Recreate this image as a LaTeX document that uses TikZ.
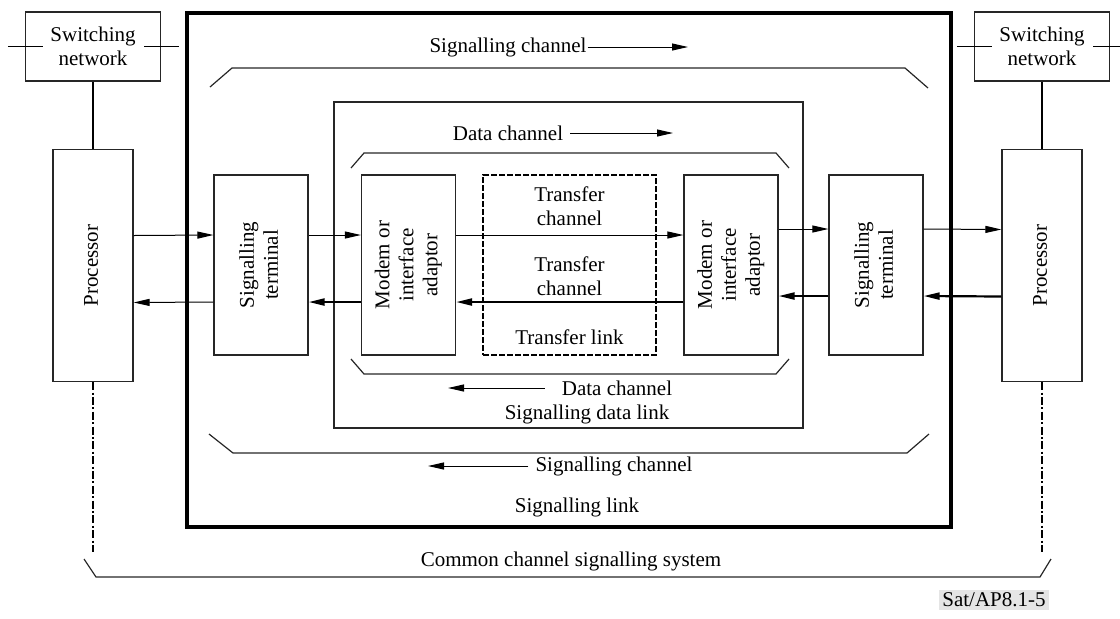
\documentclass[tikz,border=0pt]{standalone}
\usepackage{fontspec}
\setmainfont{Liberation Serif}
\usepackage{graphicx}
\usepackage{tikz}
\usetikzlibrary{arrows.meta, positioning, calc}

\newcommand{\vlabel}[1]{\rotatebox{90}{\begin{tabular}{@{}c@{}}#1\end{tabular}}}

\begin{document}
\begin{tikzpicture}[
    x=0.5pt, y=-0.5pt,
    every node/.style={font=\fontsize{10.5}{12}\selectfont},
    box/.style={draw=black!85, line width=0.6pt, inner sep=0pt, align=center},
    swbox/.style={box, minimum width=67.5pt, minimum height=34.5pt},
    proc/.style={box, minimum width=40pt, minimum height=116pt},
    term/.style={box, minimum width=47pt, minimum height=90pt},
    tlink/.style={box, draw=black, line width=0.9pt, dash pattern=on 3pt off 1pt, minimum width=86.5pt, minimum height=90pt},
    sig/.style={-{Triangle[length=8pt, width=3.5pt]}, line width=0.5pt},
    sigbold/.style={sig, line width=1.1pt},
    brace/.style={black!85, line width=0.6pt},
    sysline/.style={line width=0.7pt, dash pattern=on 4pt off 1.2pt on 1pt off 1.2pt},
    lbl/.style={align=center}
]
\useasboundingbox (0,0) rectangle (1120,618);

\def\xProcL{93}
\def\xTermL{261}
\def\xModemL{408.5}
\def\xLink{569.5}
\def\xModemR{731}
\def\xTermR{876}
\def\xProcR{1042}
\def\yRow{265}

% Switching networks and processors
\node[swbox] (swL) at (\xProcL, 46.5) {Switching\\network};
\node[swbox] (swR) at (\xProcR, 46.5) {Switching\\network};
\draw[line width=0.6pt] ([xshift=-8.5pt]swL.west) -- ([xshift=9pt]swL.west);
\draw[line width=0.6pt] ([xshift=-8.5pt]swL.east) -- ([xshift=9pt]swL.east);
\draw[line width=0.6pt] ([xshift=-8.5pt]swR.west) -- ([xshift=9pt]swR.west);
\draw[line width=0.6pt] ([xshift=-8.5pt]swR.east) -- ([xshift=5.5pt]swR.east);

\node[proc] (procL) at (\xProcL, 265.5) {\vlabel{Processor}};
\node[proc] (procR) at (\xProcR, 265.5) {\vlabel{Processor}};
\draw[line width=1pt] (swL) -- (procL);
\draw[line width=1pt] (swR) -- (procR);

% Signalling link (outer) and signalling data link (inner)
\node[box, draw=black, line width=1.6pt, minimum width=382pt, minimum height=257pt] (slink) at (569, 270) {};
\node[box, minimum width=234.5pt, minimum height=163pt] (sdlink) at (568.5, 265) {};

% Terminals, modems, transfer link
\node[term] (termL)  at (\xTermL,  \yRow) {\vlabel{Signalling\\terminal}};
\node[term] (modemL) at (\xModemL, \yRow) {\vlabel{Modem or\\interface\\adaptor}};
\node[tlink] (tlink) at (\xLink,   \yRow) {};
\node[term] (modemR) at (\xModemR, \yRow) {\vlabel{Modem or\\interface\\adaptor}};
\node[term] (termR)  at (\xTermR,  \yRow) {\vlabel{Signalling\\terminal}};

\node[lbl] (tchanA) at (\xLink, 206) {Transfer\\channel};
\node[lbl] (tchanB) at (\xLink, 276) {Transfer\\channel};
\node[lbl] (tlinkTxt) at (\xLink, 337) {Transfer link};

% Forward (thin) and backward (bold) flows
\draw[sig]     ([yshift=15pt]procL.east)    -- ([yshift=15pt]termL.west);
\draw[sig]     ([yshift=-18.5pt]termL.west) -- ([yshift=-18.5pt]procL.east);
\draw[sig]     ([yshift=15pt]termL.east)    -- ([yshift=15pt]modemL.west);
\draw[sigbold] ([yshift=-18.5pt]modemL.west) -- ([yshift=-18.5pt]termL.east);
\draw[sig]     ([yshift=15pt]modemL.east)   -- ([yshift=15pt]modemR.west);
\draw[sigbold] ([yshift=-18.5pt]modemR.west) -- ([yshift=-18.5pt]modemL.east);
\draw[sig]     ([yshift=18pt]modemR.east)   -- ([yshift=18pt]termR.west);
\draw[sigbold] ([yshift=-15.5pt]termR.west) -- ([yshift=-15.5pt]modemR.east);
\draw[sig]     ([yshift=18pt]termR.east)    -- ([yshift=18pt]procR.west);
\draw[sigbold] ([yshift=-15.5pt]procR.west) -- ([yshift=-15.5pt]termR.east);

% Channel braces
\draw[brace] (210,87) -- (232,68) -- (905,68) -- (928,88);
\draw[brace] (209,434) -- (233,453) -- (907,453) -- (929,434);
\draw[brace] (351,168) -- (364,153) -- (776,153) -- (789,168);
\draw[brace] (351,359) -- (364,374) -- (776,374) -- (789,359);
\draw[brace] (84,559) -- (96,577) -- (1040,577) -- (1051,559);

% Channel labels
\node (scTop) at (508, 47) {Signalling channel};
\coordinate (scTopTip) at (688, 47);
\draw[sig] ([xshift=-3pt]scTop.east) -- (scTopTip);

\node (dcTop) at (508, 133) {Data channel};
\coordinate (dcTopTip) at (673, 133);
\draw[sig] (dcTop.east) -- (dcTopTip);

\node (dcBot) at (617, 388) {Data channel};
\coordinate (dcBotTip) at (448, 388);
\draw[sig] ([xshift=-5pt]dcBot.west) -- (dcBotTip);

\node (sdlTxt) at (587, 414) {Signalling data link};

\node (scBot) at (614, 466) {Signalling channel};
\coordinate (scBotTip) at (428, 466);
\draw[sig] (scBot.west) -- (scBotTip);

\node (slTxt) at (577, 507) {Signalling link};

% Common channel signalling system
\coordinate (ccsL) at (\xProcL, 552);
\coordinate (ccsR) at (\xProcR, 552);
\draw[sysline] (procL) -- (ccsL);
\draw[sysline] (procR) -- (ccsR);
\node (ccsTxt) at (571, 561) {Common channel signalling system};

\node[fill=gray!20, inner sep=1.5pt] (figref) at (994, 600) {Sat/AP8.1-5};

\end{tikzpicture}
\end{document}
